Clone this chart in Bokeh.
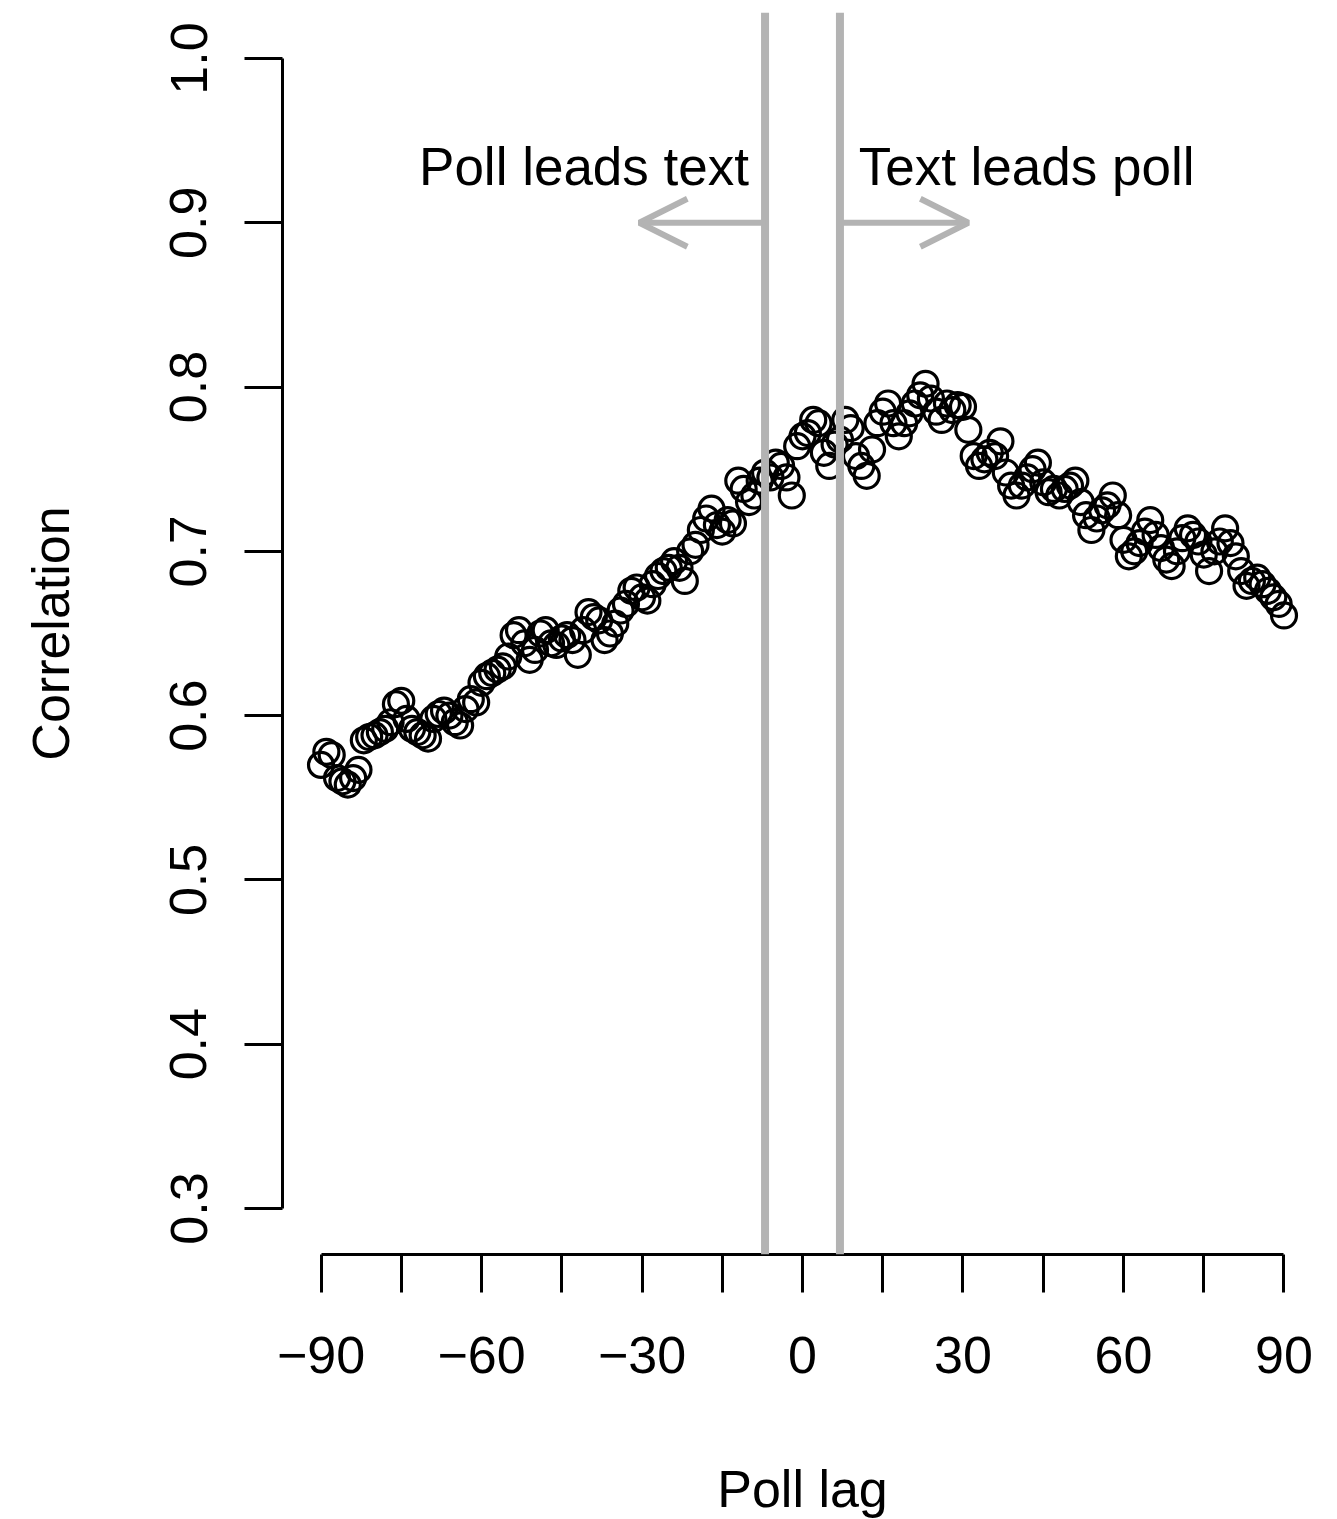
from bokeh.plotting import figure
from bokeh.models import Range1d, FixedTicker, Span, Arrow, OpenHead, Label
from bokeh.embed import file_html
from bokeh.resources import INLINE

lags = list(range(-90, 91))
correlation = [
    0.570, 0.578, 0.576, 0.562, 0.560, 0.558, 0.562, 0.567, 0.585, 0.587,  # -90..-81
    0.588, 0.590, 0.592, 0.596, 0.607, 0.609, 0.598, 0.592, 0.590, 0.588,  # -80..-71
    0.586, 0.598, 0.601, 0.603, 0.600, 0.596, 0.594, 0.604, 0.610, 0.608,  # -70..-61
    0.620, 0.624, 0.626, 0.628, 0.630, 0.636, 0.649, 0.652, 0.644, 0.634,  # -60..-51
    0.640, 0.650, 0.652, 0.644, 0.643, 0.647, 0.649, 0.646, 0.637, 0.652,  # -50..-41
    0.663, 0.660, 0.658, 0.646, 0.650, 0.656, 0.664, 0.668, 0.676, 0.678,  # -40..-31
    0.672, 0.670, 0.680, 0.685, 0.688, 0.690, 0.694, 0.690, 0.682, 0.700,  # -30..-21
    0.704, 0.713, 0.720, 0.726, 0.716, 0.712, 0.719, 0.717, 0.743, 0.738,  # -20..-11
    0.730, 0.734, 0.743, 0.748, 0.745, 0.754, 0.752, 0.745, 0.734, 0.764,  # -10..-1
    0.770,                                                                  # 0
    0.772, 0.780, 0.778, 0.760, 0.752, 0.765, 0.768, 0.780, 0.775, 0.758,  # 1..10
    0.752, 0.746, 0.762, 0.778, 0.785, 0.790, 0.778, 0.770, 0.778, 0.784,  # 11..20
    0.790, 0.795, 0.802, 0.793, 0.785, 0.780, 0.790, 0.786, 0.789, 0.788,  # 21..30
    0.774, 0.758, 0.752, 0.756, 0.760, 0.758, 0.767, 0.748, 0.740, 0.734,  # 31..40
    0.740, 0.745, 0.750, 0.754, 0.742, 0.736, 0.738, 0.734, 0.738, 0.740,  # 41..50
    0.743, 0.730, 0.722, 0.713, 0.720, 0.725, 0.728, 0.734, 0.722, 0.707,  # 51..60
    0.697, 0.700, 0.705, 0.712, 0.719, 0.710, 0.702, 0.695, 0.691, 0.700,  # 61..70
    0.708, 0.714, 0.710, 0.706, 0.698, 0.688, 0.700, 0.706, 0.714, 0.705,  # 71..80
    0.697, 0.688, 0.679, 0.682, 0.684, 0.680, 0.676, 0.672, 0.668, 0.661,  # 81..90
]

x_ticks = [-90, -75, -60, -45, -30, -15, 0, 15, 30, 45, 60, 75, 90]
x_tick_labels = {-90: "\u221290", -75: "", -60: "\u221260", -45: "", -30: "\u221230", -15: "",
                 0: "0", 15: "", 30: "30", 45: "", 60: "60", 75: "", 90: "90"}
y_ticks = [0.3, 0.4, 0.5, 0.6, 0.7, 0.8, 0.9, 1.0]
y_tick_labels = {0.3: "0.3", 0.4: "0.4", 0.5: "0.5", 0.6: "0.6", 0.7: "0.7", 0.8: "0.8", 0.9: "0.9", 1.0: "1.0"}
lead_lines = [-7, 7]
arrow_y = 0.9
arrow_left = (-7, -30.5)
arrow_right = (7, 31)
label_left = ("Poll leads text", -10, 0.934)
label_right = ("Text leads poll", 10.5, 0.934)

FONT = "Liberation Sans"
FS = "52px"

p = figure(frame_width=1040, frame_height=1242, output_backend="svg", toolbar_location=None,
           x_range=Range1d(-97.2, 97.2), y_range=Range1d(0.272, 1.028),
           min_border_left=282, min_border_top=12, min_border_right=15, min_border_bottom=10)
p.outline_line_color = None
p.xgrid.visible = False
p.ygrid.visible = False
p.background_fill_color = "white"
p.border_fill_color = "white"

for ax, ticks, labels, bnds in ((p.xaxis[0], x_ticks, x_tick_labels, (-90, 90)),
                                (p.yaxis[0], y_ticks, y_tick_labels, (0.3, 1.0))):
    ax.ticker = FixedTicker(ticks=ticks)
    ax.major_label_overrides = labels
    ax.bounds = bnds
    ax.axis_line_width = 3
    ax.axis_line_color = "black"
    ax.major_tick_line_width = 3
    ax.major_tick_line_color = "black"
    ax.major_tick_out = 38
    ax.major_tick_in = 0
    ax.minor_tick_out = 0
    ax.minor_tick_in = 0
    ax.major_label_text_font = FONT
    ax.major_label_text_font_size = FS
    ax.major_label_text_color = "black"
    ax.axis_label_text_font = FONT
    ax.axis_label_text_font_size = FS
    ax.axis_label_text_font_style = "normal"
    ax.axis_label_text_color = "black"

p.xaxis.axis_label = "Poll lag"
p.yaxis.axis_label = "Correlation"
p.xaxis.major_label_standoff = 44
p.xaxis.axis_label_standoff = 84
p.yaxis.major_label_standoff = 38
p.yaxis.axis_label_standoff = 88
p.yaxis.major_label_orientation = "vertical"

for loc in lead_lines:
    p.add_layout(Span(location=loc, dimension="height", line_color="#b3b3b3", line_width=8))

for (x0, x1) in (arrow_left, arrow_right):
    p.add_layout(Arrow(x_start=x0, y_start=arrow_y, x_end=x1, y_end=arrow_y,
                       line_color="#b3b3b3", line_width=6,
                       end=OpenHead(size=48, line_color="#b3b3b3", line_width=6)))

p.add_layout(Label(text=label_left[0], x=label_left[1], y=label_left[2], text_align="right",
                   text_baseline="alphabetic", text_font=FONT, text_font_size="53px", text_color="black"))
p.add_layout(Label(text=label_right[0], x=label_right[1], y=label_right[2], text_align="left",
                   text_baseline="alphabetic", text_font=FONT, text_font_size="53px", text_color="black"))

p.scatter(lags, correlation, marker="circle", size=25, fill_color=None,
          line_color="black", line_width=3.2)

open("out.html", "w").write(file_html(p, INLINE))
